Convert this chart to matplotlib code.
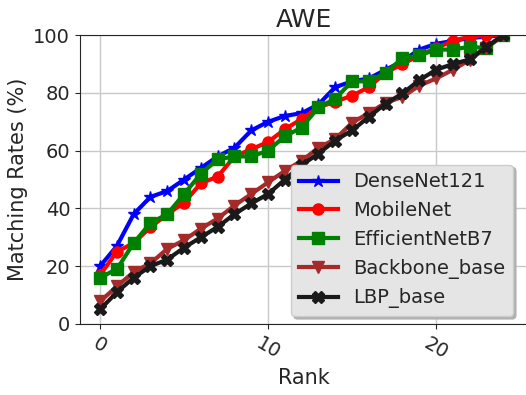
import numpy as np
import matplotlib
matplotlib.use("Agg")
import matplotlib.pyplot as plt

# --- CMC values (rank 0..24) ---
ranks = np.arange(25)
densenet = [20, 27, 38, 44, 46, 50, 54, 58, 61, 67, 70, 72, 73, 76, 82, 84, 85, 88, 91, 95,
            97, 98, 99, 99.5, 100]
mobilenet = [17, 25, 28, 33.5, 38, 42, 48.7, 51, 58, 60.5, 63, 67.4, 71, 75, 77, 79, 82, 87, 90, 93,
             95.5, 98, 99.5, 100, 100]
efficientnet = [16, 19, 28, 35, 38, 45, 52, 57, 58, 58, 60, 65, 68, 75, 78, 84, 84, 87, 92, 93,
                95, 95, 96, 95.5, 100]
backbone = [7.8, 13, 18, 21, 26, 29, 33, 36.5, 41, 45, 49, 53, 56.5, 61, 64, 69.7, 73, 76.6, 78.6, 82.5,
            85, 88, 91.4, 95.7, 100]
lbp = [5, 11, 16, 20, 22.3, 26.4, 30, 33.6, 38, 41.7, 45, 50, 55, 59, 63.5, 67, 71.7, 76.3, 79.8, 84.4,
       88, 90, 91.6, 96, 100]

series = [
    ("DenseNet121", densenet, "blue", "*", 9),
    ("MobileNet", mobilenet, "red", "o", 8),
    ("EfficientNetB7", efficientnet, "green", "s", 8),
    ("Backbone_base", backbone, "brown", "v", 8),
    ("LBP_base", lbp, "#1a1a1a", "X", 8),
]

txt = "#262626"
plt.rcParams.update({
    "text.color": txt,
    "axes.labelcolor": txt,
    "xtick.color": txt,
    "ytick.color": txt,
    "axes.edgecolor": txt,
})

fig = plt.figure(figsize=(5.26, 3.95), dpi=100)
# right edge of the axes sits just outside the picture, as in the reference
ax = fig.add_axes([0.152, 0.18, 0.851, 0.731])

for name, vals, col, mk, ms in series:
    ax.plot(ranks, vals, color=col, marker=mk, markersize=ms, linewidth=3, label=name)

ax.set_ylim(0, 100)
ax.set_xlim(-1.2, 25.45)
ax.set_xticks([0, 10, 20])
ax.set_yticks([0, 20, 40, 60, 80, 100])
ax.tick_params(axis="both", labelsize=14)
plt.setp(ax.get_xticklabels(), rotation=-30)
ax.grid(True, color="#c8c8c8", linewidth=1)
ax.set_axisbelow(True)

ax.set_title("AWE", fontsize=18)
ax.set_xlabel("Rank", fontsize=15)
ax.set_ylabel("Matching Rates (%)", fontsize=15)

leg = ax.legend(loc="lower right", fontsize=14, fancybox=True,
                shadow={"color": "#b0b0b0", "alpha": 1},
                facecolor="#e5e5e5", framealpha=1, borderaxespad=0.4,
                bbox_to_anchor=(0.985, 0.0))
leg.get_frame().set_edgecolor("#cccccc")

fig.savefig("out.png", dpi=100)
